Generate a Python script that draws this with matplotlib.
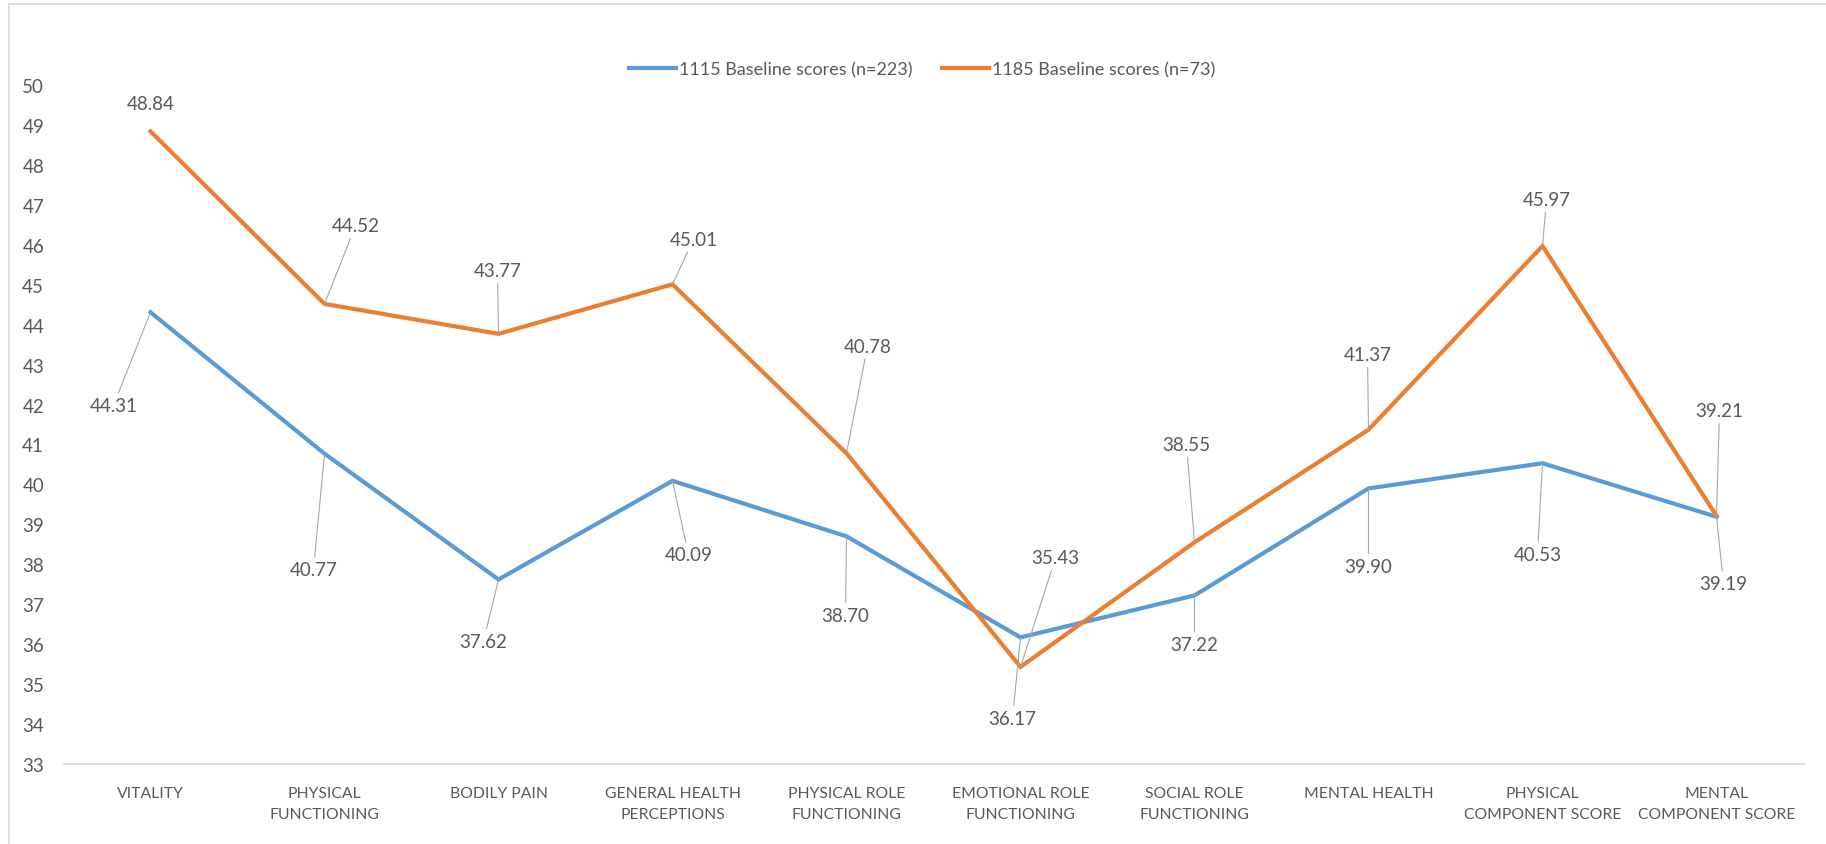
import numpy as np
import matplotlib
matplotlib.use("Agg")
from matplotlib import pyplot as plt
from matplotlib.patches import Rectangle

# SF-36 domain scores for the two baseline groups
categories = ["VITALITY", "PHYSICAL\nFUNCTIONING", "BODILY PAIN", "GENERAL HEALTH\nPERCEPTIONS",
              "PHYSICAL ROLE\nFUNCTIONING", "EMOTIONAL ROLE\nFUNCTIONING", "SOCIAL ROLE\nFUNCTIONING",
              "MENTAL HEALTH", "PHYSICAL\nCOMPONENT SCORE", "MENTAL\nCOMPONENT SCORE"]
scores_1115 = [44.31, 40.77, 37.62, 40.09, 38.70, 36.17, 37.22, 39.90, 40.53, 39.19]
scores_1185 = [48.84, 44.52, 43.77, 45.01, 40.78, 35.43, 38.55, 41.37, 45.97, 39.21]
label_1115 = "1115 Baseline scores (n=223)"
label_1185 = "1185 Baseline scores (n=73)"

# where each value label sits relative to its point (pixels, x right / y down)
off_1115 = [(-37, 93), (-11, 116), (-15, 62), (16, 74), (-1, 79), (-8, 81), (0, 49), (0, 78), (-5, 91), (7, 67)]
off_1185 = [(0, -28), (31, -78), (-1, -63), (21, -45), (21, -107), (35, -109), (-8, -98), (-1, -75), (4, -46), (3, -105)]

plt.rcParams['font.family'] = ['Lato', 'DejaVu Sans']
txt = '#595959'
blue = '#5B9BD5'
orange = '#ED7D31'

fig = plt.figure(figsize=(18.26, 8.45), dpi=100)
ax = fig.add_axes([63.5/1826, 1-765/845, 1740/1826, 679/845])

x = np.arange(len(categories))
ax.plot(x, scores_1115, color=blue, lw=3, label=label_1115, solid_joinstyle='miter', zorder=3)
ax.plot(x, scores_1185, color=orange, lw=3, label=label_1185, solid_joinstyle='miter', zorder=3)

def put_labels(vals, offs):
    for i, v in enumerate(vals):
        dx, dy = offs[i]
        arrow = None
        if abs(dy) > 35:
            arrow = dict(arrowstyle='-', color='#A6A6A6', lw=0.8, shrinkA=1, shrinkB=0)
        ax.annotate("%.2f" % v, xy=(i, v), xytext=(dx, -dy), textcoords='offset pixels',
                    ha='center', va='center', fontsize=13.5, color=txt,
                    arrowprops=arrow, zorder=4)

put_labels(scores_1115, off_1115)
put_labels(scores_1185, off_1185)

ax.set_xlim(-0.5, len(categories)-0.5)
ax.set_ylim(33, 50)
ax.set_yticks(np.arange(33, 51, 1))
ax.set_xticks(x)
ax.set_xticklabels(categories, fontsize=11.3, color=txt, linespacing=1.6)
ax.tick_params(axis='x', length=0, pad=16)
ax.tick_params(axis='y', length=0, pad=14, labelsize=13.5, labelcolor=txt)
for s in ['top', 'right', 'left']:
    ax.spines[s].set_visible(False)
ax.spines['bottom'].set_color('#D9D9D9')
ax.spines['bottom'].set_linewidth(1.2)

leg = fig.legend(loc='center', bbox_to_anchor=(922/1826, 1-70/845), ncol=2, frameon=False,
                 fontsize=13, handlelength=2.6, handletextpad=0.2, columnspacing=1.6)
for t in leg.get_texts():
    t.set_color(txt)

# chart frame
fig.patches.append(Rectangle((9/1826, -0.01), 1.0, 1-5/845+0.01, transform=fig.transFigure,
                             fill=False, edgecolor='#D9D9D9', lw=1.2))

fig.savefig("out.png", dpi=100)
